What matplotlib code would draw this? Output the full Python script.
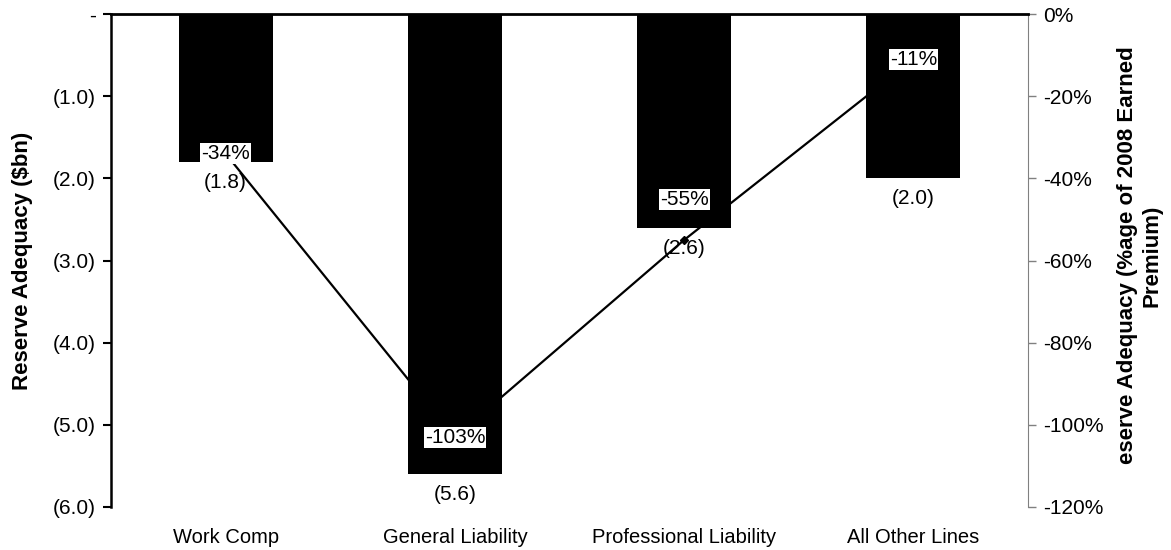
import matplotlib

matplotlib.use("Agg")
import matplotlib.pyplot as plt
from matplotlib.ticker import FuncFormatter

plt.rcParams["font.family"] = ["Liberation Sans", "DejaVu Sans"]
plt.rcParams["font.size"] = 15

lines = ["Work Comp", "General Liability", "Professional Liability", "All Other Lines"]
adequacy_bn = [-1.8, -5.6, -2.6, -2.0]
adequacy_pct = [-0.34, -1.03, -0.55, -0.11]
pct_label_offsets = [0, 0, 29, 0]  # points; the PL label sits above its point

fig = plt.figure(figsize=(11.71, 5.5), dpi=100)
ax = fig.add_axes([0.0948, 0.0782, 0.7831, 0.8963])
ax2 = ax.twinx()

# bars on the primary axis, drawn over the secondary-axis line
ax.set_zorder(ax2.get_zorder() + 1)
ax.patch.set_visible(False)

x = list(range(len(lines)))
ax.bar(x, adequacy_bn, width=0.41, color="black", zorder=2)
ax2.plot(x, adequacy_pct, color="black", lw=1.6, marker="D", ms=4, zorder=1)

ax.set_xlim(-0.5, 3.5)
ax.set_ylim(-6, 0)
ax2.set_ylim(-1.2, 0)

ax.set_yticks([0, -1, -2, -3, -4, -5, -6])
ax.yaxis.set_major_formatter(FuncFormatter(lambda v, _: "-" if v == 0 else f"({abs(v):.1f})"))
ax2.set_yticks([0, -0.2, -0.4, -0.6, -0.8, -1.0, -1.2])
ax2.yaxis.set_major_formatter(FuncFormatter(lambda v, _: f"{round(v * 100):d}%"))

ax.set_xticks(x)
ax.set_xticklabels(lines, fontsize=14.5)
ax.tick_params(axis="x", length=0, pad=15)
ax.tick_params(axis="y", direction="out", length=6, width=1.5, pad=5)
ax2.tick_params(axis="y", direction="out", length=6, width=1, color="#808080", pad=5)

for side in ["bottom", "right"]:
    ax.spines[side].set_visible(False)
ax.spines["left"].set_linewidth(1.8)
ax.spines["top"].set_linewidth(2)
for side in ["top", "bottom", "left"]:
    ax2.spines[side].set_visible(False)
ax2.spines["right"].set_color("#808080")

ax.set_ylabel("Reserve Adequacy ($bn)", fontweight="bold", fontsize=16, va="center")
ax.yaxis.set_label_coords(-0.097, 0.5)
ax2.set_ylabel("eserve Adequacy (%age of 2008 Earned\nPremium)", fontweight="bold",
               fontsize=16, rotation=90, multialignment="center", va="center",
               linespacing=1.25)
ax2.yaxis.set_label_coords(1.122, 0.51)

# $bn values under each bar
for i, v in enumerate(adequacy_bn):
    ax.annotate(f"({abs(v):.1f})", xy=(i, v), xytext=(0, -8), textcoords="offset points",
                ha="center", va="top")

# % of earned premium labels, boxed in white over the bars
for i, p in enumerate(adequacy_pct):
    ax.annotate(f"{round(p * 100):d}%", xy=(i, p), xycoords=ax2.transData,
                xytext=(0, pct_label_offsets[i]), textcoords="offset points",
                ha="center", va="center", zorder=5,
                bbox=dict(boxstyle="square,pad=0.05", fc="white", ec="none"))

fig.savefig("out.png", dpi=100)
